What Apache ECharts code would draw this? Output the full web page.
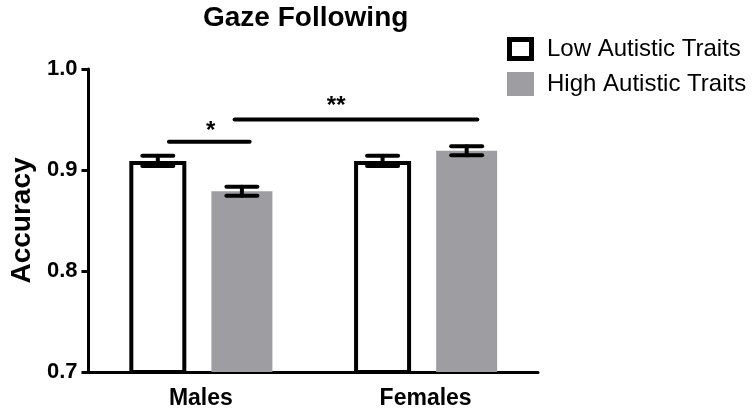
<!DOCTYPE html>
<html><head><meta charset="utf-8">
<script src="https://cdn.jsdelivr.net/npm/echarts@6/dist/echarts.min.js"></script>
<style>html,body{margin:0;padding:0;background:#fff}#c{width:754px;height:417px}</style>
</head><body><div id="c"></div>
<script>
// ---- data ----
const categories = ['Males', 'Females'];
const seriesNames = ['Low Autistic Traits', 'High Autistic Traits'];
const lowMeans = [0.909, 0.909];
const lowErr = [0.005, 0.005];
const highMeans = [0.879, 0.919];
const highErr = [0.0045, 0.0045];
const yTickLabels = ['0.7', '0.8', '0.9', '1.0'];
const titleText = 'Gaze Following';
const yAxisTitle = 'Accuracy';
// significance brackets (x in category-band units, y in accuracy units)
const sigStart = [0.358, 0.650];
const sigEnd = [0.717, 1.730];
const sigY = [0.928, 0.950];
const sigLabelX = [0.544, 1.102];
const sigLabelY = [0.938, 0.963];
const sigLabels = ['*', '**'];

// ---- style ----
const FONT = '"Liberation Sans", Arial, Helvetica, sans-serif';
const GRAY = '#9e9ea2';
const W_LOW = 57, W_HIGH = 61, GAP_PCT = 0.44;
const CAP = 31, LW = 4;
const total = W_LOW + W_LOW * GAP_PCT + W_HIGH;
const OFF_LOW = -total / 2 + W_LOW / 2;
const OFF_HIGH = total / 2 - W_HIGH / 2;

function errRender(offset) {
  return function (params, api) {
    const c = api.value(0), m = api.value(1), e = api.value(2);
    const cx = api.coord([c, m])[0] + offset;
    const yT = api.coord([c, m + e])[1];
    const yB = api.coord([c, m - e])[1];
    const st = { stroke: '#000', lineWidth: LW, lineCap: 'round' };
    return { type: 'group', children: [
      { type: 'line', shape: { x1: cx, y1: yT, x2: cx, y2: yB }, style: st },
      { type: 'line', shape: { x1: cx - CAP / 2, y1: yT, x2: cx + CAP / 2, y2: yT }, style: st },
      { type: 'line', shape: { x1: cx - CAP / 2, y1: yB, x2: cx + CAP / 2, y2: yB }, style: st }
    ]};
  };
}

const chart = echarts.init(document.getElementById('c'), null, { renderer: 'canvas' });
chart.setOption({
  backgroundColor: '#fff',
  animation: false,
  title: { text: titleText, left: 203, top: 4, padding: 0,
    textStyle: { fontFamily: FONT, fontWeight: 'bold', fontSize: 28, color: '#000' } },
  legend: {
    orient: 'vertical', left: 507, top: 37, padding: 0, itemWidth: 27, itemHeight: 24, itemGap: 11,
    textStyle: { fontFamily: FONT, fontSize: 24, color: '#000', padding: [0, 0, 0, 8], lineHeight: 24 },
    data: [
      { name: seriesNames[0], icon: 'path://M0,0H27V24H0Z M5,5V19H22V5Z', itemStyle: { color: '#000', borderWidth: 0 } },
      { name: seriesNames[1], icon: 'rect', itemStyle: { color: GRAY, borderWidth: 0 } }
    ]
  },
  grid: { left: 86, right: 216, top: 69, bottom: 45 },
  xAxis: [
    { type: 'category', data: categories,
      axisLine: { lineStyle: { color: '#000', width: 3 } },
      axisTick: { alignWithLabel: true, length: 7, lineStyle: { color: '#000', width: 3 } },
      axisLabel: { fontFamily: FONT, fontWeight: 'bold', fontSize: 23, color: '#000', margin: 15 } },
    { type: 'value', min: 0, max: 2, show: false }
  ],
  yAxis: {
    type: 'value', min: 0.7, max: 1.0, interval: 0.1,
    name: yAxisTitle, nameLocation: 'middle', nameGap: 50,
    nameTextStyle: { fontFamily: FONT, fontWeight: 'bold', fontSize: 28, color: '#000' },
    axisLine: { show: true, lineStyle: { color: '#000', width: 3 } },
    axisTick: { show: true, length: 7, lineStyle: { color: '#000', width: 3 } },
    splitLine: { show: false },
    axisLabel: { fontFamily: FONT, fontWeight: 'bold', fontSize: 22, color: '#000', margin: 11,
      formatter: function (v) { const s = v.toFixed(1); return yTickLabels.indexOf(s) >= 0 ? s : ''; } }
  },
  series: [
    { name: seriesNames[0], type: 'bar', data: lowMeans, barWidth: W_LOW, barGap: (GAP_PCT * 100) + '%',
      itemStyle: { color: '#fff', borderColor: '#000', borderWidth: 4 } },
    { name: seriesNames[1], type: 'bar', data: highMeans, barWidth: W_HIGH,
      itemStyle: { color: GRAY, borderWidth: 0 } },
    { type: 'custom', z: 5, renderItem: errRender(OFF_LOW), encode: { x: 0, y: 1 },
      data: lowMeans.map((m, i) => [i, m, lowErr[i]]) },
    { type: 'custom', z: 5, renderItem: errRender(OFF_HIGH), encode: { x: 0, y: 1 },
      data: highMeans.map((m, i) => [i, m, highErr[i]]) },
    { type: 'custom', z: 5, xAxisIndex: 1, encode: { x: 0, y: 2 },
      data: sigLabels.map((s, i) => [sigStart[i], sigEnd[i], sigY[i], sigLabelX[i], sigLabelY[i], i]),
      renderItem: function (params, api) {
        const p1 = api.coord([api.value(0), api.value(2)]);
        const p2 = api.coord([api.value(1), api.value(2)]);
        const pl = api.coord([api.value(3), api.value(4)]);
        return { type: 'group', children: [
          { type: 'line', shape: { x1: p1[0], y1: p1[1], x2: p2[0], y2: p2[1] },
            style: { stroke: '#000', lineWidth: LW, lineCap: 'round' } },
          { type: 'text', x: pl[0], y: pl[1],
            style: { text: sigLabels[api.value(5)], font: 'bold 24px ' + FONT, fill: '#000',
              align: 'center', verticalAlign: 'middle' } }
        ]};
      } }
  ]
});
</script></body></html>
